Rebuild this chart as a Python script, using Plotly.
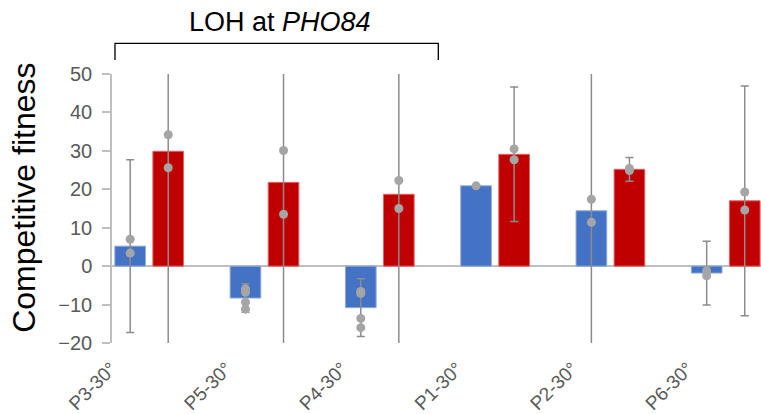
import plotly.graph_objects as go

# ---- data -------------------------------------------------------------
categories = ["P3-30°", "P5-30°", "P4-30°", "P1-30°", "P2-30°", "P6-30°"]

blue_means = [5.2, -8.3, -10.8, 20.9, 14.4, -1.8]
blue_err = [22.5, 3.7, 7.5, 0.0, 38.1, 8.3]
blue_points = [[7.0, 3.4], [-5.9, -6.8, -9.4, -11.2], [-6.6, -7.1, -13.6, -16.0],
               [20.9], [17.4, 11.4], [-1.2, -2.5]]

red_means = [29.9, 21.8, 18.7, 29.1, 25.2, 17.0]
red_err = [54.6, 105.0, 46.4, 17.5, 3.1, 29.9]
red_points = [[34.2, 25.6], [30.1, 13.5], [22.3, 15.0], [30.5, 27.7],
              [25.4, 24.9], [19.3, 14.6]]

y_ticks = [-20, -10, 0, 10, 20, 30, 40, 50]

# ---- style ------------------------------------------------------------
BLUE = "#4472C4"
RED = "#C00000"
DOT = "#A5A5A5"
ERR = "#8C8C8C"
AXIS = "#BFBFBF"
TICKFONT = "#595959"
FONT = "Liberation Sans, Arial, sans-serif"

BAR_W = 0.266
BLUE_OFF = -0.298
RED_OFF = 0.032

idx = list(range(len(categories)))


def flatten(points, shift):
    xs, ys = [], []
    for i, vals in enumerate(points):
        for v in vals:
            xs.append(i + shift)
            ys.append(v)
    return xs, ys


fig = go.Figure()

for means, err, colour, off, edge in [
    (blue_means, blue_err, BLUE, BLUE_OFF, "#8FAADC"),
    (red_means, red_err, RED, RED_OFF, "#E06666"),
]:
    fig.add_trace(go.Bar(
        x=idx, y=means, width=BAR_W, offset=off,
        marker=dict(color=colour, line=dict(color=edge, width=1)),
        error_y=dict(type="data", array=err, visible=True,
                     color=ERR, thickness=1.5, width=4),
        showlegend=False, hoverinfo="y",
    ))

for points, off in [(blue_points, BLUE_OFF), (red_points, RED_OFF)]:
    px, py = flatten(points, off + BAR_W / 2)
    fig.add_trace(go.Scatter(
        x=px, y=py, mode="markers",
        marker=dict(color=DOT, size=9),
        showlegend=False, hoverinfo="y",
    ))

fig.update_layout(
    width=761, height=414,
    margin=dict(l=112, r=0, t=74, b=71),
    paper_bgcolor="white", plot_bgcolor="white",
    font=dict(family=FONT),
    xaxis=dict(range=[-0.3226, 5.306], tickmode="array", automargin=False,
               tickvals=idx, ticktext=categories, tickangle=-45,
               ticklabelshift=-38,
               tickfont=dict(size=19, color=TICKFONT, family=FONT),
               showgrid=False, zeroline=False, showline=False,
               ticks="outside", ticklen=6, tickcolor="rgba(0,0,0,0)"),
    yaxis=dict(range=[-20, 50], tickvals=y_ticks, showgrid=False,
               automargin=False,
               zeroline=True, zerolinecolor=AXIS, zerolinewidth=1.5,
               showline=True, linecolor=AXIS, linewidth=1.5,
               ticks="outside", ticklen=8, tickcolor=AXIS, tickwidth=1.5,
               ticklabelstandoff=6,
               tickfont=dict(size=20, color=TICKFONT, family=FONT)),
)

# axis title
fig.add_annotation(text="Competitive fitness", textangle=-90,
                   xref="paper", yref="paper", x=-0.135, y=0.541,
                   xanchor="center", yanchor="middle", showarrow=False,
                   font=dict(size=32, color="black", family=FONT))

# bracket over the LOH group
fig.add_shape(type="path", xref="paper", yref="paper",
              path="M 0.0046 1.052 L 0.0046 1.114 L 0.5028 1.114 L 0.5028 1.052",
              line=dict(color="black", width=1.3))
fig.add_annotation(text="LOH at <i>PHO84</i>", xref="paper", yref="paper",
                   x=0.259, y=1.193, xanchor="center", yanchor="middle",
                   showarrow=False,
                   font=dict(size=27, color="black", family=FONT))

fig.write_html("out.html")
